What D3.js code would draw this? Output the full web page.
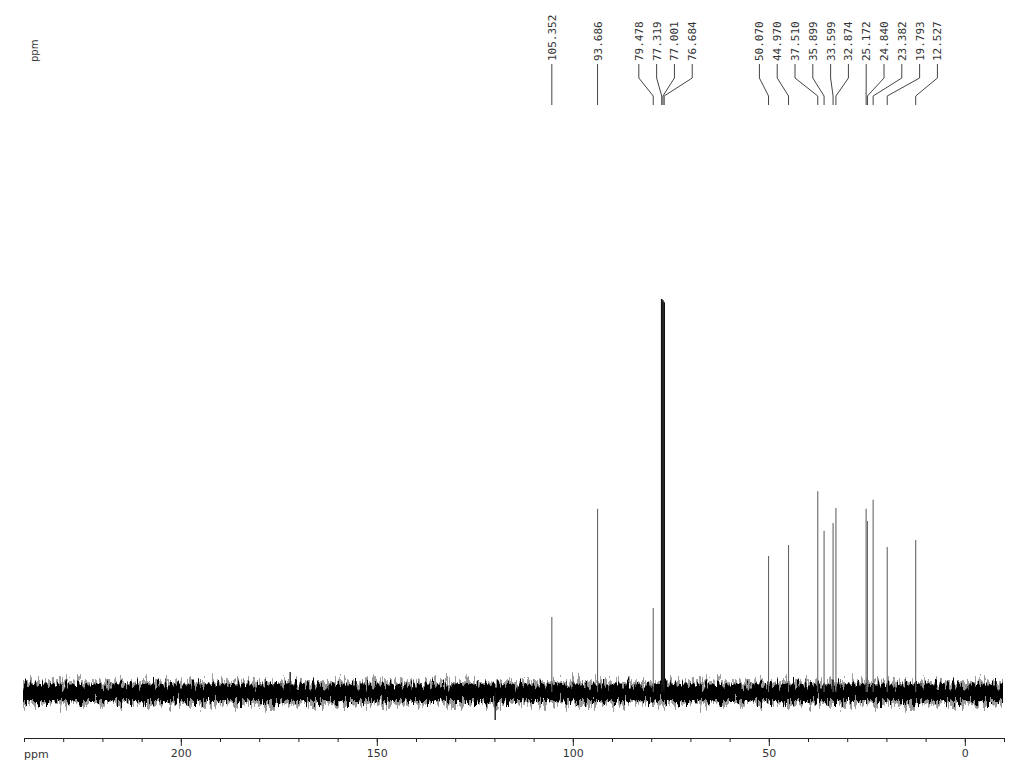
<!DOCTYPE html>
<html>
<head>
<meta charset="utf-8">
<script src="https://cdn.jsdelivr.net/npm/d3@7"></script>
<style>
  html, body { margin: 0; padding: 0; background: #fff; }
  svg { display: block; }
</style>
</head>
<body>
<div class="canvas"></div>
<script>
// peak positions (ppm) and heights (relative, solvent = 100)
const peakShifts  = [105.352, 93.686, 79.478, 77.319, 77.001, 76.684,
                     50.070, 44.970, 37.510, 35.899, 33.599, 32.874,
                     25.172, 24.840, 23.382, 19.793, 12.527];
const peakHeights = [19.1, 46.6, 21.4, 100, 99.7, 99.2,
                     34.6, 37.4, 51.1, 41.0, 43.0, 46.8,
                     46.6, 43.5, 48.9, 36.9, 38.7];
// unlabelled artefacts
const extraShifts  = [172.1, 119.8];
const extraHeights = [5.1, -7.1];
// solvent lines drawn darker
const solventShifts = [77.319, 77.001, 76.684];
// baseline noise envelope (same units): dark core, grey fringe
const noiseBand = [1.9, -2.3];
const noiseFringe = [2.5, -3.0];
// axis ticks
const majorTicks = [200, 150, 100, 50, 0];
const minorTicks = d3.range(240, -11, -10);

const width = 1024, height = 768;

const svg = d3.select('.canvas')
  .append('svg')
    .attr('width', width)
    .attr('height', height);

// x runs right to left like every nmr plot
const x = d3.scaleLinear().domain([240, -10]).range([24, 1004]);
const y = d3.scaleLinear().domain([0, 100]).range([692, 299]);

// grain filters for the noise floor (vertical displacement only)
const defs = svg.append('defs');
function grain(id, seed, scale) {
  const f = defs.append('filter')
    .attr('id', id)
    .attr('x', '0%').attr('y', '-150%')
    .attr('width', '100%').attr('height', '400%');
  f.append('feTurbulence')
    .attr('type', 'fractalNoise')
    .attr('baseFrequency', '0.4 0.06')
    .attr('numOctaves', 3)
    .attr('seed', seed)
    .attr('result', 'turb');
  f.append('feColorMatrix')
    .attr('in', 'turb')
    .attr('type', 'matrix')
    .attr('values', '1 0 0 0 0  0 0 0 0 0.5  0 0 0 0 0  0 0 0 0 1')
    .attr('result', 'map');
  f.append('feDisplacementMap')
    .attr('in', 'SourceGraphic')
    .attr('in2', 'map')
    .attr('scale', scale)
    .attr('xChannelSelector', 'G')
    .attr('yChannelSelector', 'R');
}
grain('grainA', 7, 22);
grain('grainB', 19, 28);

const bandX = x(240) - 1, bandW = x(-10) - x(240);

svg.append('rect')
  .attr('x', bandX).attr('width', bandW)
  .attr('y', y(noiseFringe[0]))
  .attr('height', y(noiseFringe[1]) - y(noiseFringe[0]))
  .attr('fill', '#999')
  .attr('filter', 'url(#grainB)');

svg.append('rect')
  .attr('x', bandX).attr('width', bandW)
  .attr('y', y(noiseBand[0]))
  .attr('height', y(noiseBand[1]) - y(noiseBand[0]))
  .attr('fill', '#000')
  .attr('filter', 'url(#grainA)');

// peaks
const peaks = peakShifts.map((s, i) => ({shift: s, h: peakHeights[i]}));
const extras = extraShifts.map((s, i) => ({shift: s, h: extraHeights[i]}));

svg.append('g').selectAll('line')
  .data(extras)
  .enter().append('line')
    .attr('x1', d => x(d.shift)).attr('x2', d => x(d.shift))
    .attr('y1', y(0)).attr('y2', d => y(d.h))
    .attr('stroke', '#111')
    .attr('stroke-width', 1.3);

svg.append('g').selectAll('line')
  .data(peaks)
  .enter().append('line')
    .attr('x1', d => x(d.shift)).attr('x2', d => x(d.shift))
    .attr('y1', y(0)).attr('y2', d => y(d.h))
    .attr('stroke', d => solventShifts.includes(d.shift) ? '#111' : '#666')
    .attr('stroke-width', d => solventShifts.includes(d.shift) ? 1.6 : 1.1);

// label layout: spread labels so they don't overlap, cluster around mean
const gap = 17.8;
const sorted = peaks.map(d => ({shift: d.shift, px: x(d.shift)}))
  .sort((a, b) => a.px - b.px);
let clusters = sorted.map(d => ({items: [d], sum: d.px}));
let merged = true;
while (merged) {
  merged = false;
  for (let i = 0; i < clusters.length - 1; i++) {
    const a = clusters[i], b = clusters[i + 1];
    const aEnd = a.sum / a.items.length + (a.items.length - 1) / 2 * gap;
    const bStart = b.sum / b.items.length - (b.items.length - 1) / 2 * gap;
    if (bStart - aEnd < gap) {
      clusters.splice(i, 2, {items: a.items.concat(b.items), sum: a.sum + b.sum});
      merged = true;
      break;
    }
  }
}
const labels = [];
clusters.forEach(c => {
  const n = c.items.length;
  const mid = c.sum / n + (n > 1 ? 5 : 0);
  c.items.forEach((d, i) => labels.push({shift: d.shift, px: d.px, lx: mid + (i - (n - 1) / 2) * gap}));
});

const labelG = svg.append('g');
labelG.selectAll('path')
  .data(labels)
  .enter().append('path')
    .attr('d', d => `M${d.lx},64 L${d.lx},78 L${d.px},96 L${d.px},105`)
    .attr('fill', 'none')
    .attr('stroke', '#444')
    .attr('stroke-width', 1);

labelG.selectAll('text')
  .data(labels)
  .enter().append('text')
    .attr('transform', d => `translate(${d.lx + 4}, 61) rotate(-90)`)
    .attr('font-family', 'DejaVu Sans Mono, monospace')
    .attr('font-size', 11)
    .attr('fill', '#333')
    .text(d => d.shift.toFixed(3));

// vertical ppm tag top left
svg.append('text')
  .attr('transform', 'translate(38, 62) rotate(-90)')
  .attr('font-family', 'DejaVu Sans, sans-serif')
  .attr('font-size', 10)
  .attr('fill', '#333')
  .text('ppm');

// axes
const axisG = svg.append('g').attr('transform', 'translate(0, 738)');
const minorAxis = d3.axisBottom(x).tickValues(minorTicks).tickSize(4).tickSizeOuter(0).tickFormat('');
const majorAxis = d3.axisBottom(x).tickValues(majorTicks).tickSize(8).tickSizeOuter(0);
axisG.append('g').call(minorAxis);
axisG.append('g').call(majorAxis);
axisG.selectAll('path.domain').attr('stroke', '#222');
axisG.selectAll('line').attr('stroke', '#222');
axisG.selectAll('text')
  .attr('font-family', 'DejaVu Sans, sans-serif')
  .attr('font-size', 11)
  .attr('fill', '#333');

svg.append('text')
  .attr('x', 24)
  .attr('y', 758)
  .attr('font-family', 'DejaVu Sans, sans-serif')
  .attr('font-size', 11)
  .attr('fill', '#333')
  .text('ppm');
</script>
</body>
</html>
